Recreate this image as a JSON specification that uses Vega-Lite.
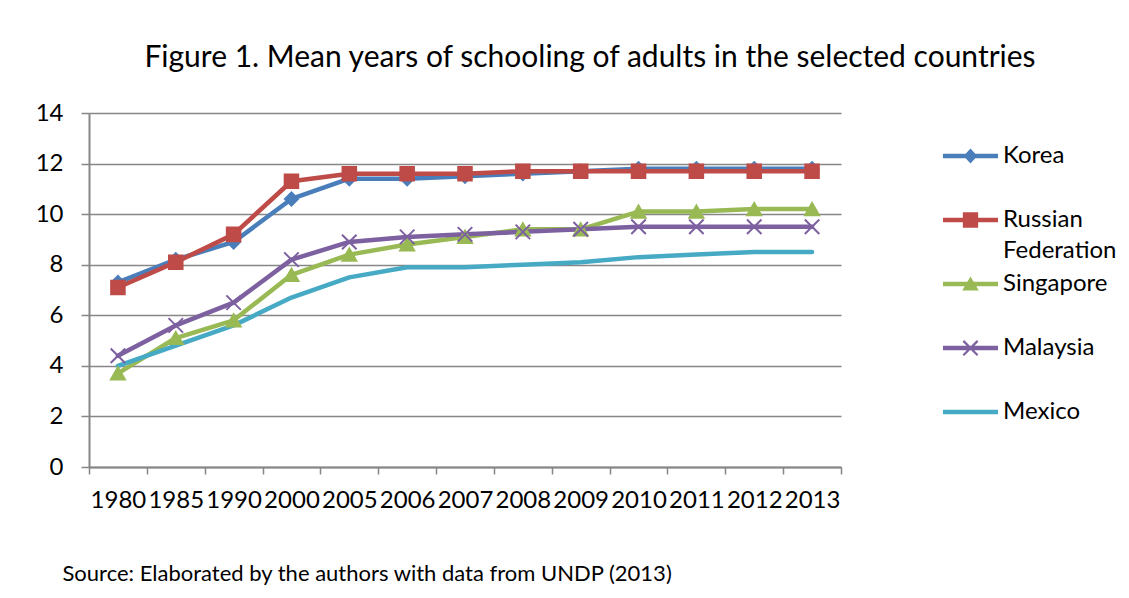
{
  "$schema": "https://vega.github.io/schema/vega-lite/v6.json",
  "autosize": "none",
  "width": 752,
  "height": 354,
  "padding": {"left": 89, "top": 113, "right": 288, "bottom": 131},
  "background": "white",
  "config": {"font": "Lato", "view": {"stroke": null}},
  "title": {
    "text": "Figure 1. Mean years of schooling of adults in the selected countries",
    "fontSize": 30, "font": "Lato", "fontWeight": "normal", "color": "#000",
    "anchor": "middle", "frame": "group", "dx": 125, "baseline": "alphabetic", "offset": 4
  },
  "data": {"values": [
    {"country": "Korea", "year": "1980", "value": 7.3},
    {"country": "Korea", "year": "1985", "value": 8.2},
    {"country": "Korea", "year": "1990", "value": 8.9},
    {"country": "Korea", "year": "2000", "value": 10.6},
    {"country": "Korea", "year": "2005", "value": 11.4},
    {"country": "Korea", "year": "2006", "value": 11.4},
    {"country": "Korea", "year": "2007", "value": 11.5},
    {"country": "Korea", "year": "2008", "value": 11.6},
    {"country": "Korea", "year": "2009", "value": 11.7},
    {"country": "Korea", "year": "2010", "value": 11.8},
    {"country": "Korea", "year": "2011", "value": 11.8},
    {"country": "Korea", "year": "2012", "value": 11.8},
    {"country": "Korea", "year": "2013", "value": 11.8},
    {"country": "Russian Federation", "year": "1980", "value": 7.1},
    {"country": "Russian Federation", "year": "1985", "value": 8.1},
    {"country": "Russian Federation", "year": "1990", "value": 9.2},
    {"country": "Russian Federation", "year": "2000", "value": 11.3},
    {"country": "Russian Federation", "year": "2005", "value": 11.6},
    {"country": "Russian Federation", "year": "2006", "value": 11.6},
    {"country": "Russian Federation", "year": "2007", "value": 11.6},
    {"country": "Russian Federation", "year": "2008", "value": 11.7},
    {"country": "Russian Federation", "year": "2009", "value": 11.7},
    {"country": "Russian Federation", "year": "2010", "value": 11.7},
    {"country": "Russian Federation", "year": "2011", "value": 11.7},
    {"country": "Russian Federation", "year": "2012", "value": 11.7},
    {"country": "Russian Federation", "year": "2013", "value": 11.7},
    {"country": "Singapore", "year": "1980", "value": 3.7},
    {"country": "Singapore", "year": "1985", "value": 5.1},
    {"country": "Singapore", "year": "1990", "value": 5.8},
    {"country": "Singapore", "year": "2000", "value": 7.6},
    {"country": "Singapore", "year": "2005", "value": 8.4},
    {"country": "Singapore", "year": "2006", "value": 8.8},
    {"country": "Singapore", "year": "2007", "value": 9.1},
    {"country": "Singapore", "year": "2008", "value": 9.4},
    {"country": "Singapore", "year": "2009", "value": 9.4},
    {"country": "Singapore", "year": "2010", "value": 10.1},
    {"country": "Singapore", "year": "2011", "value": 10.1},
    {"country": "Singapore", "year": "2012", "value": 10.2},
    {"country": "Singapore", "year": "2013", "value": 10.2},
    {"country": "Malaysia", "year": "1980", "value": 4.4},
    {"country": "Malaysia", "year": "1985", "value": 5.6},
    {"country": "Malaysia", "year": "1990", "value": 6.5},
    {"country": "Malaysia", "year": "2000", "value": 8.2},
    {"country": "Malaysia", "year": "2005", "value": 8.9},
    {"country": "Malaysia", "year": "2006", "value": 9.1},
    {"country": "Malaysia", "year": "2007", "value": 9.2},
    {"country": "Malaysia", "year": "2008", "value": 9.3},
    {"country": "Malaysia", "year": "2009", "value": 9.4},
    {"country": "Malaysia", "year": "2010", "value": 9.5},
    {"country": "Malaysia", "year": "2011", "value": 9.5},
    {"country": "Malaysia", "year": "2012", "value": 9.5},
    {"country": "Malaysia", "year": "2013", "value": 9.5},
    {"country": "Mexico", "year": "1980", "value": 4.0},
    {"country": "Mexico", "year": "1985", "value": 4.8},
    {"country": "Mexico", "year": "1990", "value": 5.6},
    {"country": "Mexico", "year": "2000", "value": 6.7},
    {"country": "Mexico", "year": "2005", "value": 7.5},
    {"country": "Mexico", "year": "2006", "value": 7.9},
    {"country": "Mexico", "year": "2007", "value": 7.9},
    {"country": "Mexico", "year": "2008", "value": 8.0},
    {"country": "Mexico", "year": "2009", "value": 8.1},
    {"country": "Mexico", "year": "2010", "value": 8.3},
    {"country": "Mexico", "year": "2011", "value": 8.4},
    {"country": "Mexico", "year": "2012", "value": 8.5},
    {"country": "Mexico", "year": "2013", "value": 8.5}
  ]},
  "encoding": {
    "x": {
      "field": "year", "type": "ordinal",
      "scale": {"type": "band", "paddingInner": 0, "paddingOuter": 0},
      "axis": {
        "title": "Source: Elaborated by the authors with data from UNDP (2013)",
        "titleAnchor": "start", "titleAlign": "left", "titleX": -27, "titleY": 113, "titleBaseline": "alphabetic",
        "titleFontSize": 22, "titleFontWeight": "normal", "titleColor": "#000", "titleFont": "Lato",
        "labelAngle": 0, "labelFontSize": 24, "labelColor": "#000", "labelPadding": 14,
        "labelOverlap": false, "labelBound": false, "labelFlush": false,
        "tickBand": "extent", "tickSize": 7, "tickColor": "#868686", "tickWidth": 1.5,
        "domainColor": "#868686", "domainWidth": 2, "grid": false
      }
    },
    "y": {
      "field": "value", "type": "quantitative",
      "scale": {"domain": [0, 14], "nice": false},
      "axis": {
        "title": null, "values": [0, 2, 4, 6, 8, 10, 12, 14],
        "labelFontSize": 24, "labelColor": "#000", "labelPadding": 18, "labelFlush": false,
        "tickSize": 8, "tickColor": "#868686", "tickWidth": 1.5,
        "domainColor": "#868686", "domainWidth": 2,
        "gridColor": "#868686", "gridWidth": 1.5
      }
    },
    "color": {
      "field": "country", "type": "nominal",
      "scale": {
        "domain": ["Korea", "Russian Federation", "Singapore", "Malaysia", "Mexico"],
        "range": ["#4A7EBB", "#BE4B48", "#98B954", "#7D60A0", "#46AAC5"]
      },
      "legend": {
        "orient": "none", "legendX": 866.5, "legendY": 28, "title": null, "padding": 0,
        "labelFontSize": 24, "labelColor": "#000", "labelFont": "Lato", "labelOffset": 17.5,
        "rowPadding": 6, "symbolSize": 900, "symbolStrokeWidth": 0,
        "labelExpr": "datum.label === 'Russian Federation' ? ['Russian', 'Federation'] : [datum.label, '']",
        "encode": {
          "symbols": {"update": {
            "shape": {"signal": "datum.value === 'Korea' ? 'M-1.833,-0.15H1.833V0.15H-1.833ZM0,-0.5L0.46,0L0,0.5L-0.46,0Z' : datum.value === 'Russian Federation' ? 'M-1.833,-0.15H1.833V0.15H-1.833ZM-0.51,-0.51H0.51V0.51H-0.51Z' : datum.value === 'Singapore' ? 'M-1.833,-0.15H1.833V0.15H-1.833ZM0,-0.5L0.55,0.44H-0.55Z' : datum.value === 'Malaysia' ? 'M-1.833,-0.15H1.833V0.15H-1.833ZM-0.425,-0.528L0.528,0.425L0.425,0.528L-0.528,-0.425ZM0.528,-0.425L-0.425,0.528L-0.528,0.425L0.425,-0.528Z' : 'M-1.833,-0.15H1.833V0.15H-1.833Z'"},
            "fill": {"scale": "color", "field": "value"},
            "stroke": {"value": "transparent"},
            "strokeWidth": {"value": 0},
            "opacity": {"value": 1},
            "size": {"value": 900}
          }},
          "labels": {"update": {"lineHeight": {"value": 31}}}
        }
      }
    }
  },
  "layer": [
    {"mark": {"type": "line", "strokeWidth": 4.5, "strokeCap": "round", "strokeJoin": "round"}},
    {
      "transform": [{"filter": "datum.country !== 'Mexico'"}],
      "mark": {"type": "point", "filled": true, "opacity": 1, "strokeWidth": 2},
      "encoding": {
        "shape": {
          "field": "country", "type": "nominal", "legend": null,
          "scale": {"domain": ["Korea", "Russian Federation", "Singapore", "Malaysia"],
                    "range": ["diamond", "square", "triangle-up", "M-1,-1L1,1M-1,1L1,-1"]}
        },
        "stroke": {
          "field": "country", "type": "nominal", "legend": null,
          "scale": {"domain": ["Korea", "Russian Federation", "Singapore", "Malaysia"],
                    "range": ["#4A7EBB", "#BE4B48", "#98B954", "#7D60A0"]}
        },
        "size": {
          "field": "country", "type": "ordinal", "legend": null,
          "scale": {"domain": ["Korea", "Russian Federation", "Singapore", "Malaysia"],
                    "range": [170, 210, 240, 196]}
        }
      }
    }
  ]
}
